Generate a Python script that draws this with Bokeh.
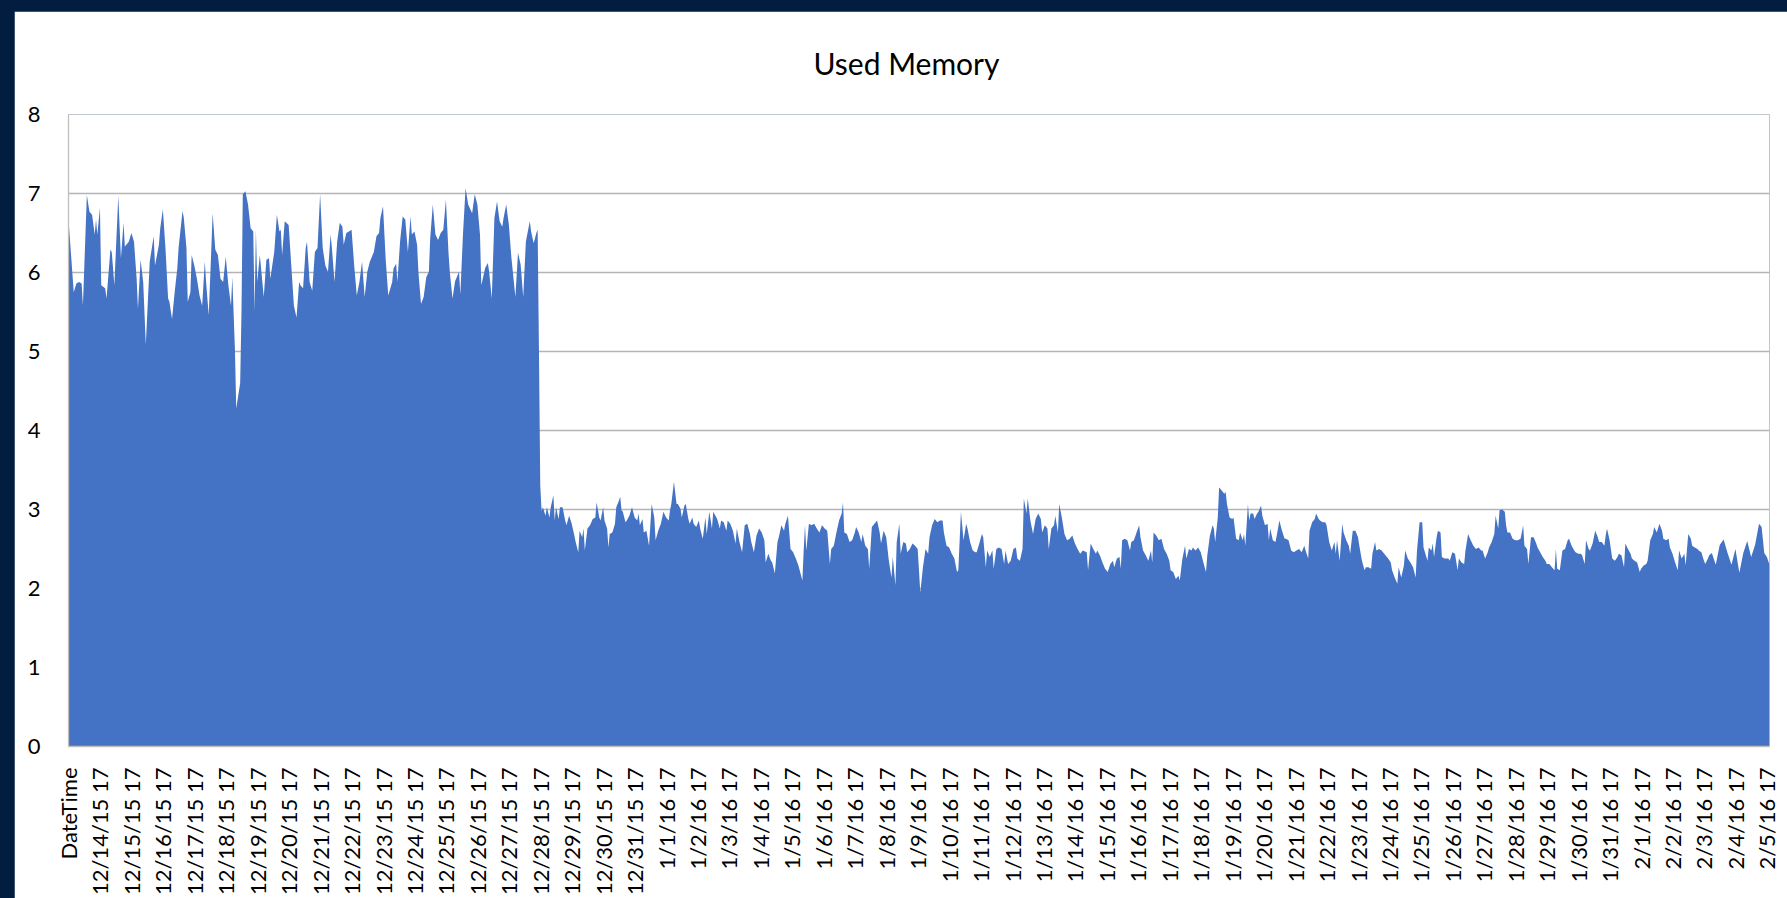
import math
from bokeh.plotting import figure
from bokeh.models import FixedTicker, Range1d
from bokeh.embed import file_html
from bokeh.resources import INLINE

# Hour offsets (one category per hour) and used memory values
hours_a = [0,4,6,8,10,11,14,16,18,20, 21,22,24,25,28,29,32,33,35,38, 40,42,43,46,48,50,52,53,55,57,
           59,62,65,66,69,70,72,74,76,77, 79,81,83,84,87,88,90,91,93,94, 96,98,100,102,104,105,107,109,110,112,
           114,116,118,120,122,124,125,127,128,131, 132,133,135,137,139,141,142,143,144,146]
used_a = [6.67,5.75,5.86,5.88,5.86,5.58,6.98,6.77,6.73,6.48, 6.67,6.48,6.82,5.84,5.80,5.67,6.29,6.26,5.84,6.97,
          6.18,6.63,6.33,6.39,6.50,6.39,5.92,5.54,6.16,5.88, 5.09,6.14,6.46,6.09,6.35,6.56,6.80,6.31,5.67,5.63,
          5.41,5.75,6.05,6.31,6.78,6.69,6.31,5.63,5.75,6.22, 6.09,5.92,5.71,5.58,6.14,5.88,5.46,6.31,6.75,6.29,
          6.22,5.92,5.88,6.20,5.84,5.58,5.94,5.03,4.28,4.60, 5.50,6.99,7.03,6.86,6.56,6.52,5.50,6.54,5.88,6.22]

hours_b = [149,151,153,154,157,159,161,162,163,165, 168,170,172,174,176,177,179,181,182,184,
           186,188,190,192,194,196,198,200,201,203, 205,207,209,210,212,214,216,218,220,222,
           224,226,228,230,233,235,237,238,240,242, 244,247,248,250,251,253,255,257,259,261,
           262,264,266,267,269,271,273,275,276,278, 280,282,284,286,288,290]
used_b = [5.69,6.16,6.18,5.92,6.26,6.73,6.52,6.54,6.22,6.65, 6.60,6.09,5.58,5.43,5.88,5.84,5.80,6.31,6.39,5.88,
          5.77,6.26,6.31,6.99,6.31,6.09,6.01,6.48,6.31,5.88, 6.39,6.63,6.58,6.35,6.50,6.52,6.54,6.09,5.71,5.88,
          6.14,5.69,6.01,6.14,6.26,6.46,6.50,6.69,6.84,6.18, 5.71,5.88,6.05,6.11,5.88,6.39,6.71,6.67,6.26,6.71,
          6.48,6.52,6.35,6.01,5.60,5.69,5.94,6.01,6.43,6.86, 6.48,6.41,6.50,6.54,6.92,6.24]

hours_c = [291,293,295,298,299,301,303,305,308,310, 312,314,315,318,320,321,323,325,327,329,
           331,332,334,336,338,341,343,345,347,349, 352,353,355,357,358,359,360,361]
used_c = [6.00,5.67,5.89,6.01,5.72,6.48,7.07,6.86,6.75,6.99, 6.86,6.48,5.84,6.06,6.12,6.01,5.67,6.69,6.90,6.65,
          6.58,6.69,6.86,6.61,6.18,5.69,6.25,6.10,5.69,6.39, 6.65,6.52,6.37,6.50,6.54,5.00,3.30,2.98]

hours_d = [362,364,365,367,368,370,371,372,374,375, 377,379,380,382,384,386,387,389,390,392,
           393,394,396,398,400,402,403,405,406,408, 409,411,412,413,415,417,418,420,421,422,
           423,425,426,428,430,432,434,435,436,438, 439,441,443,445,447,448,450,452,454,456,
           458,459,460,462,464,465,467,468,470,471, 473,474,476,477,479,481,482,484,486,487,
           489,491,492,495,497,498,500,502,503,505, 507,509,510,512,514,516,518,520,521,523,
           525,527,529,531,532,534,536,537]
used_d = [3.03,2.92,3.03,2.90,3.03,3.18,2.86,3.03,2.88,3.03, 3.03,2.86,2.80,2.92,2.82,2.67,2.59,2.46,2.73,2.65,
          2.76,2.48,2.76,2.80,2.88,2.90,3.09,2.90,2.86,3.03, 2.86,2.76,2.52,2.69,2.71,2.82,3.03,3.11,3.16,2.99,
          2.97,2.84,2.86,2.92,3.03,2.90,2.86,2.95,2.80,2.88, 2.71,2.73,2.54,3.07,2.90,2.61,2.73,2.82,2.97,2.90,
          2.86,2.99,3.07,3.35,3.07,3.07,3.01,2.90,3.05,3.07, 2.88,2.82,2.90,2.82,2.78,2.86,2.76,2.63,2.90,2.69,
          2.97,2.76,2.97,2.88,2.76,2.86,2.84,2.73,2.86,2.82, 2.73,2.57,2.76,2.59,2.46,2.80,2.82,2.69,2.59,2.46,
          2.67,2.76,2.71,2.61,2.33,2.44,2.35,2.33]

hours_e = [539,541,542,544,546,547,549,551,553,555, 557,560,561,562,563,565,567,569,571,573,
           575,577,579,581,582,584,586,588,590,591, 592,594,596,598,600,601,603,605,606,608,
           610,611,613,615,617,619,620,622,624,626, 628,629,631,632,634,635,637,639,640,642,
           644,646,648,650,652,654,656,657,659,661, 663,665,667,668,670,672,674,676,678,679,
           681,683,685,686,688,690,692,693,695,697, 698,700,701,703,705,706,708,710,712,714,
           715,717,719,721,723,724,726,728,729,731, 732,734,736,738,740,742,743,745,747,748,
           750,752,753,755,756,758,760,762,764,766, 768,770]
used_e = [2.19,2.59,2.65,2.80,2.73,2.82,2.92,2.50,2.46,2.38, 2.29,2.10,2.48,2.80,2.48,2.82,2.80,2.82,2.76,2.71,
          2.80,2.76,2.73,2.31,2.50,2.54,2.71,2.86,2.95,3.09, 2.71,2.69,2.59,2.61,2.71,2.78,2.71,2.59,2.69,2.54,
          2.50,2.25,2.78,2.82,2.86,2.71,2.57,2.73,2.65,2.35, 2.14,2.40,2.04,2.59,2.82,2.44,2.59,2.57,2.46,2.50,
          2.57,2.54,2.50,1.95,2.27,2.50,2.44,2.65,2.80,2.88, 2.84,2.86,2.86,2.71,2.54,2.52,2.44,2.38,2.21,2.23,
          2.97,2.61,2.82,2.76,2.59,2.48,2.46,2.46,2.57,2.69, 2.65,2.27,2.48,2.40,2.48,2.25,2.50,2.52,2.50,2.31,
          2.48,2.31,2.35,2.50,2.52,2.38,2.35,2.50,3.14,2.95, 3.14,2.86,2.69,2.88,2.95,2.88,2.71,2.80,2.76,2.50,
          2.76,2.80,2.92,2.71,3.07,2.90,2.69,2.61,2.63,2.67, 2.57,2.50]

hours_f = [772,774,777,778,780,782,784,785,787,789, 791,793,795,797,798,800,802,803,804,806,
           808,810,811,813,815,817,818,820,822,824, 826,827,828,830,832,834,836,838,840,841,
           843,845,847,848,850,852,853,855,857,858, 860,862,864,866,868,869,871,873,874,875,
           877,878,880,882,883,884,886,888,889,891, 893,894,896,897,898,900,901,902,904,905,
           907,908,910,911,913,915,916,917,919,921, 922,924,926,928,929,931,933,935,937,939,
           941,943,944,946,947,949,951,952,954,955, 957,959,960,962,964,966,967,968,970,972,
           973,975,977,978,980,982,984,985,987,989, 990,992,994,995,997,998,1000,1002,1004]
used_f = [2.44,2.48,2.46,2.23,2.57,2.50,2.44,2.48,2.42,2.33, 2.25,2.21,2.31,2.35,2.27,2.38,2.40,2.25,2.61,2.63,
          2.61,2.48,2.59,2.61,2.71,2.80,2.65,2.48,2.42,2.35, 2.48,2.33,2.71,2.67,2.61,2.63,2.50,2.44,2.35,2.23,
          2.21,2.12,2.16,2.10,2.38,2.54,2.38,2.50,2.48,2.52, 2.48,2.52,2.46,2.33,2.21,2.42,2.67,2.80,2.76,2.59,
          2.90,3.28,3.24,3.20,3.22,3.07,2.90,2.88,2.90,2.63, 2.61,2.71,2.61,2.69,2.54,3.07,2.86,2.95,2.95,2.88,
          2.95,2.97,3.05,2.92,2.80,2.82,2.61,2.76,2.61,2.59, 2.67,2.86,2.73,2.63,2.63,2.61,2.48,2.46,2.48,2.50,
          2.46,2.54,2.48,2.38,2.73,2.84,2.88,2.95,2.88,2.86, 2.84,2.84,2.80,2.59,2.48,2.59,2.44,2.61,2.35,2.82,
          2.71,2.61,2.54,2.44,2.73,2.73,2.65,2.54,2.35,2.23, 2.27,2.27,2.25,2.44,2.59,2.48,2.50,2.48,2.44]

hours_g = [1007,1009,1010,1012,1014,1015,1017,1019,1020,1022, 1024,1026,1028,1029,1031,1033,1034,1037,1038,1040,
           1041,1042,1044,1045,1047,1048,1050,1053,1054,1056, 1058,1060,1061,1063,1065,1066,1068,1070,1072,1074,
           1076,1078,1079,1081,1083,1084,1086,1088,1089,1091, 1092,1094,1096,1097,1098,1100,1102,1104,1106,1108,
           1109,1110,1111,1113,1114,1116,1118,1120,1121,1123, 1125,1127,1128,1130,1132,1134,1135,1136,1138,1140,
           1142,1144,1145,1147,1149,1150,1152,1154,1155,1157, 1158,1160,1161,1163,1165,1167,1168,1170,1172,1173,
           1174,1176,1178,1180,1182,1183,1185,1187,1188,1190, 1192,1193,1195,1197,1199,1200,1202,1204,1205,1207,
           1209,1210,1212,1214,1216,1217,1219,1221,1222,1224, 1226,1228,1229,1231,1233,1234,1236,1238,1239,1241,
           1243,1244,1246,1248,1249,1251,1252]
used_g = [2.38,2.33,2.23,2.14,2.06,2.27,2.14,2.29,2.48,2.38, 2.33,2.27,2.14,2.48,2.84,2.84,2.52,2.35,2.52,2.48,
          2.57,2.40,2.65,2.73,2.71,2.40,2.38,2.38,2.35,2.46, 2.44,2.23,2.38,2.33,2.31,2.48,2.69,2.61,2.54,2.50,
          2.52,2.48,2.48,2.38,2.46,2.52,2.59,2.69,2.92,2.76, 2.99,3.00,2.97,2.80,2.71,2.71,2.63,2.61,2.61,2.63,
          2.71,2.80,2.54,2.50,2.31,2.65,2.65,2.57,2.52,2.46, 2.40,2.35,2.31,2.31,2.27,2.23,2.50,2.25,2.23,2.48,
          2.50,2.61,2.63,2.54,2.48,2.46,2.44,2.44,2.42,2.31, 2.61,2.50,2.48,2.57,2.73,2.65,2.59,2.59,2.54,2.67,
          2.76,2.61,2.38,2.35,2.40,2.44,2.42,2.27,2.57,2.50, 2.44,2.38,2.35,2.33,2.21,2.25,2.29,2.31,2.35,2.61,
          2.69,2.78,2.71,2.82,2.73,2.63,2.61,2.63,2.52,2.44, 2.33,2.23,2.48,2.38,2.44,2.29,2.69,2.63,2.54,2.52,
          2.50,2.48,2.46,2.35,2.31,2.38,2.42]

hours_h = [1254,1257,1260,1263,1266,1269,1272,1275,1278,1281,1284,1287,1290,1292,1294,1296,1298]
used_h = [2.45,2.30,2.55,2.62,2.45,2.30,2.50,2.20,2.45,2.60,2.40,2.55,2.82,2.78,2.45,2.40,2.30]

tick_labels = ["DateTime",
    "12/14/15 17", "12/15/15 17", "12/16/15 17", "12/17/15 17", "12/18/15 17", "12/19/15 17",
    "12/20/15 17", "12/21/15 17", "12/22/15 17", "12/23/15 17", "12/24/15 17", "12/25/15 17",
    "12/26/15 17", "12/27/15 17", "12/28/15 17", "12/29/15 17", "12/30/15 17", "12/31/15 17",
    "1/1/16 17", "1/2/16 17", "1/3/16 17", "1/4/16 17", "1/5/16 17", "1/6/16 17", "1/7/16 17",
    "1/8/16 17", "1/9/16 17", "1/10/16 17", "1/11/16 17", "1/12/16 17", "1/13/16 17", "1/14/16 17",
    "1/15/16 17", "1/16/16 17", "1/17/16 17", "1/18/16 17", "1/19/16 17", "1/20/16 17", "1/21/16 17",
    "1/22/16 17", "1/23/16 17", "1/24/16 17", "1/25/16 17", "1/26/16 17", "1/27/16 17", "1/28/16 17",
    "1/29/16 17", "1/30/16 17", "1/31/16 17",
    "2/1/16 17", "2/2/16 17", "2/3/16 17", "2/4/16 17", "2/5/16 17"]
label_every = 24  # one label per 24 hourly categories
y_ticks = [0, 1, 2, 3, 4, 5, 6, 7, 8]

hours = hours_a + hours_b + hours_c + hours_d + hours_e + hours_f + hours_g + hours_h
used = used_a + used_b + used_c + used_d + used_e + used_f + used_g + used_h
for hh, uu, name in [(hours_a, used_a, "a"), (hours_b, used_b, "b"), (hours_c, used_c, "c"),
                     (hours_d, used_d, "d"), (hours_e, used_e, "e"), (hours_f, used_f, "f"),
                     (hours_g, used_g, "g"), (hours_h, used_h, "h")]:
    if len(hh) != len(uu):
        raise SystemExit(f"segment {name}: {len(hh)} hours vs {len(uu)} values")

FONT = "Lato"
p = figure(width=1773, height=887, output_backend="svg", toolbar_location=None,
           x_range=Range1d(0, hours[-1]), y_range=Range1d(0, 8),
           min_border_left=54, min_border_right=18, min_border_top=103, min_border_bottom=152)
p.title.text = "Used Memory"
p.title.text_font = FONT
p.title.text_font_size = "30px"
p.title.text_font_style = "normal"
p.title.text_color = "#000000"
p.title.align = "left"
p.title.offset = 745
p.title.vertical_align = "top"
p.title.standoff = 63

p.varea(x=hours, y1=[0] * len(used), y2=used, fill_color="#4472C4", fill_alpha=1.0)

p.background_fill_color = "white"
p.border_fill_color = "white"
p.outline_line_color = None

p.xgrid.grid_line_color = None
p.ygrid.grid_line_color = "#b4b4b4"
p.ygrid.grid_line_width = 1.3
p.ygrid.ticker = FixedTicker(ticks=y_ticks)

p.yaxis.ticker = FixedTicker(ticks=y_ticks)
p.xaxis.ticker = FixedTicker(ticks=[i * label_every for i in range(len(tick_labels))])
p.xaxis.major_label_overrides = {i * label_every: lab for i, lab in enumerate(tick_labels)}
p.xaxis.major_label_orientation = math.pi / 2

for ax in (p.xaxis[0], p.yaxis[0]):
    ax.axis_line_color = "#bfbfbf"
    ax.axis_line_width = 1.3
    ax.major_tick_line_color = None
    ax.minor_tick_line_color = None
    ax.major_label_text_font = FONT
    ax.major_label_text_font_size = "22px"
    ax.major_label_text_color = "#000000"
p.yaxis.major_label_standoff = 22
p.xaxis.major_label_standoff = 15

html = file_html(p, INLINE, title="Used Memory")
html = html.replace("</head>",
    "<style>html,body{margin:0;padding:0;background:#021d3f;overflow:hidden;}"
    "body{padding:11px 0 0 14px;}</style></head>", 1)
open("out.html", "w").write(html)
